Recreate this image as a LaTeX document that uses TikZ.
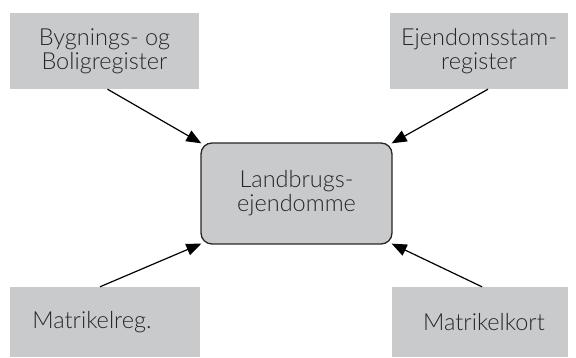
\documentclass[tikz,border=0pt]{standalone}
\usepackage{fontspec}
\setmainfont{Lato}[UprightFont=* Light]
\usetikzlibrary{arrows.meta}
\definecolor{boxgray}{RGB}{201,202,204}
\tikzset{
  register/.style={fill=boxgray, inner sep=0pt, align=center, font=\fontsize{23.5}{24}\selectfont, text=black!85},
  core/.style={register, draw=black!85, line width=1.3pt, rounded corners=11pt},
  feed/.style={line width=1.2pt, -{Triangle[length=15pt,width=12pt]}}
}
\begin{document}
\begin{tikzpicture}[x=1pt,y=1pt]

\useasboundingbox (0,0) rectangle (576,358);

\node[register, minimum width=189pt, minimum height=76pt] (bolig) at (104.5,307) {Bygnings- og\\Boligregister};
\node[register, minimum width=178pt, minimum height=76pt] (stam) at (479,307) {Ejendomsstam-\\register};

\node[register, minimum width=190pt, minimum height=70pt] (matreg) at (105,36) {\raisebox{-5pt}{Matrikelreg.}\hspace{26pt}};
\node[register, minimum width=176pt, minimum height=70pt] (matkort) at (480,36) {\hspace{8pt}\raisebox{-5pt}{Matrikelkort}};

\node[core, minimum width=191pt, minimum height=101pt] (ejd) at (296.5,164.5) {Landbrugs-\\ejendomme};

\draw[feed] ([xshift=3pt]bolig.south) -- ([shift={(1pt,-1pt)}]ejd.north west);
\draw[feed] ([xshift=9pt]stam.south) -- ([shift={(-1pt,-1pt)}]ejd.north east);
\draw[feed] ([xshift=-5pt]matreg.north) -- ([shift={(1pt,1pt)}]ejd.south west);
\draw[feed] ([xshift=2pt]matkort.north) -- ([shift={(-1pt,1pt)}]ejd.south east);

\end{tikzpicture}
\end{document}
